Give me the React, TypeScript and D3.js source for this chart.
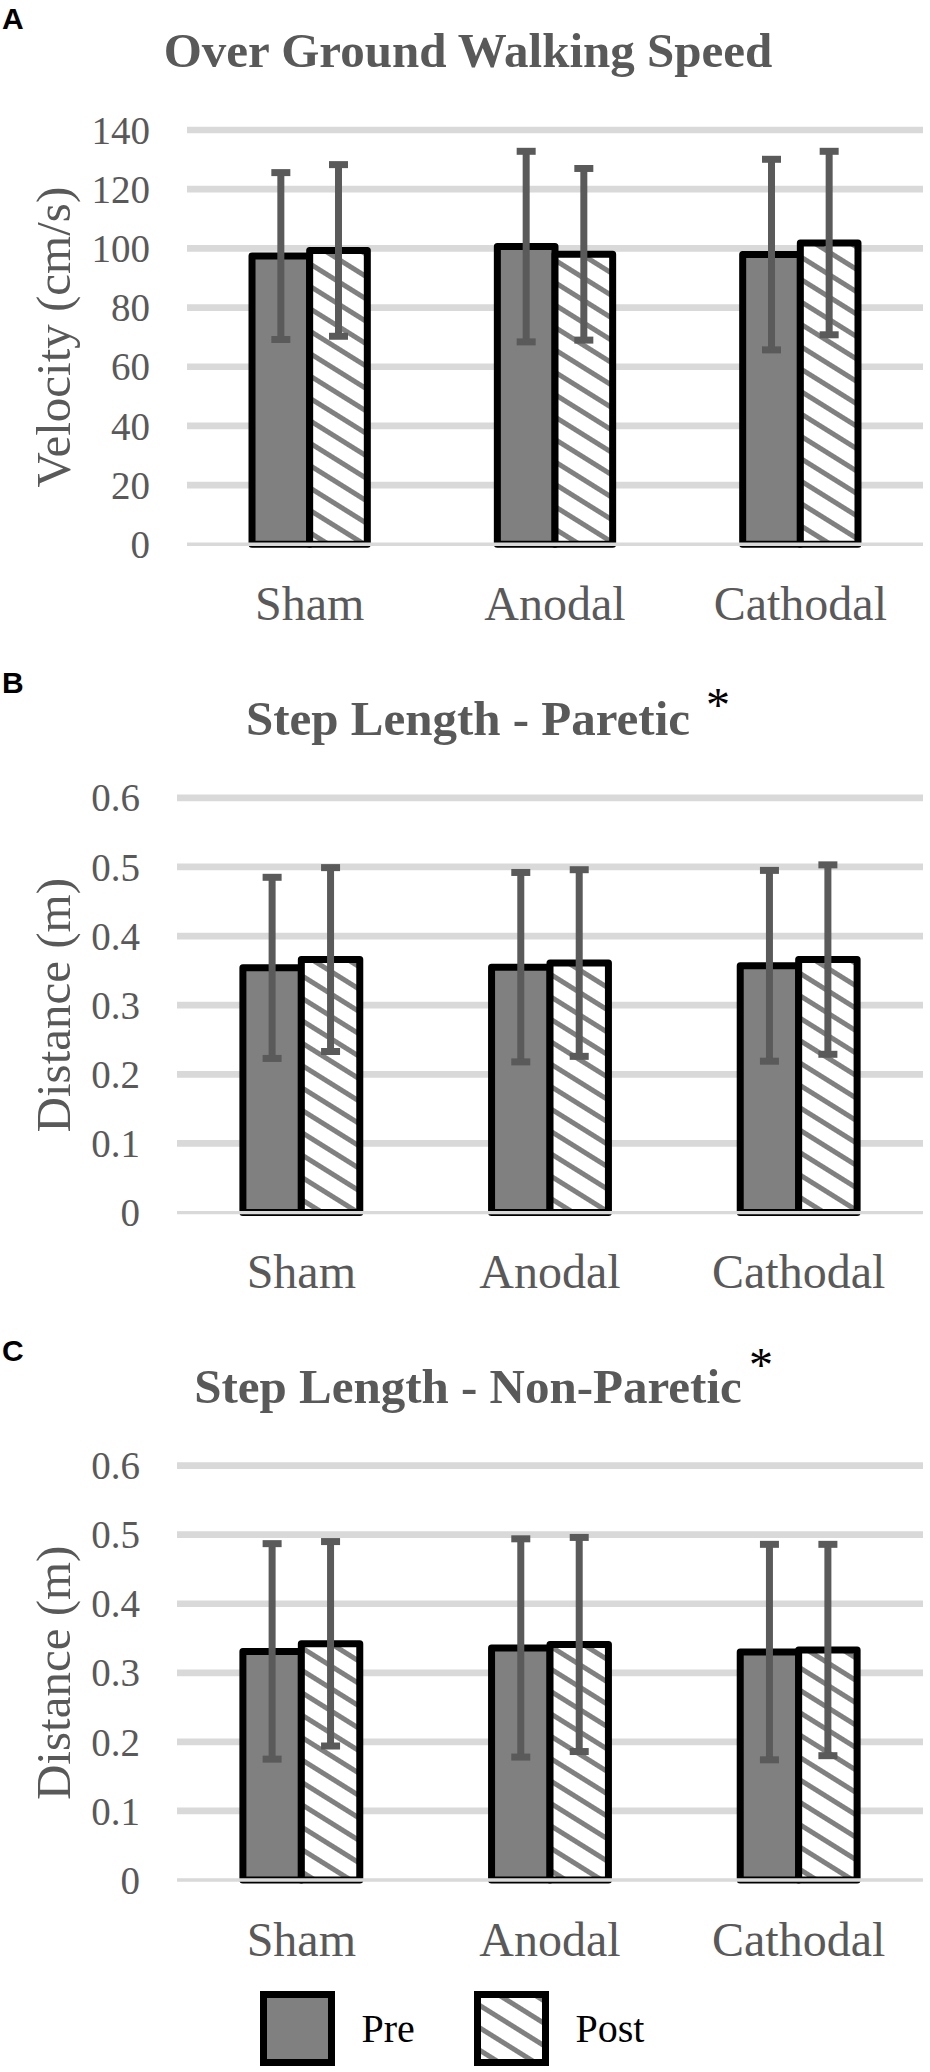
import React from 'react';
import * as d3 from 'd3';

// categories and series
const categories = ['Sham', 'Anodal', 'Cathodal'];
const series = ['Pre', 'Post'];

// A: over ground walking speed (cm/s)
const speedPre = [97.4, 100.6, 97.9];
const speedPost = [99.3, 98.0, 101.8];
const speedPreSd = [28.2, 32.2, 32.2];
const speedPostSd = [29.0, 29.0, 31.0];
const speedTicks = [0, 20, 40, 60, 80, 100, 120, 140];

// B: step length paretic (m)
const pareticPre = [0.354, 0.355, 0.357];
const pareticPost = [0.366, 0.361, 0.366];
const pareticPreSd = [0.131, 0.137, 0.138];
const pareticPostSd = [0.133, 0.135, 0.137];

// C: step length non-paretic (m)
const nonPareticPre = [0.331, 0.336, 0.330];
const nonPareticPost = [0.342, 0.341, 0.333];
const nonPareticPreSd = [0.156, 0.158, 0.156];
const nonPareticPostSd = [0.148, 0.155, 0.153];

const distanceTicks = [0, 0.1, 0.2, 0.3, 0.4, 0.5, 0.6];
const distanceTickLabels = ['0', '0.1', '0.2', '0.3', '0.4', '0.5', '0.6'];

const WIDTH = 930;
const HEIGHT = 2072;
const RIGHT = 923;
const SERIF = '"Liberation Serif", "Times New Roman", serif';
const SANS = '"Liberation Sans", Arial, sans-serif';
const TEXT = '#595959';
const GRID = '#d9d9d9';
const BAR = '#808080';

const panels = [
  {
    letter: 'A', letterY: 29, title: 'Over Ground Walking Speed', star: null,
    yLabel: 'Velocity (cm/s)', max: 140, ticks: speedTicks, tickLabels: speedTicks.map(String),
    pre: speedPre, post: speedPost, preSd: speedPreSd, postSd: speedPostSd,
    left: 187, yTop: 130, y0: 544.3,
  },
  {
    letter: 'B', letterY: 693, title: 'Step Length - Paretic', star: { x: 718, y: 721 },
    yLabel: 'Distance (m)', max: 0.6, ticks: distanceTicks, tickLabels: distanceTickLabels,
    pre: pareticPre, post: pareticPost, preSd: pareticPreSd, postSd: pareticPostSd,
    left: 177, yTop: 797.8, y0: 1212.6,
  },
  {
    letter: 'C', letterY: 1361, title: 'Step Length - Non-Paretic', star: { x: 761, y: 1381 },
    yLabel: 'Distance (m)', max: 0.6, ticks: distanceTicks, tickLabels: distanceTickLabels,
    pre: nonPareticPre, post: nonPareticPost, preSd: nonPareticPreSd, postSd: nonPareticPostSd,
    left: 177, yTop: 1465.6, y0: 1880,
  },
];

function Panel({ p }: { p: any }) {
  const y = d3.scaleLinear().domain([0, p.max]).range([p.y0, p.yTop]);
  const x0 = d3.scaleBand().domain(categories).range([p.left, RIGHT]).paddingInner(0.53).paddingOuter(0.265);
  const x1 = d3.scaleBand().domain(series).range([0, x0.bandwidth()]);

  const bars = categories.flatMap((c, i) => [
    { c, s: 'Pre', v: p.pre[i], sd: p.preSd[i] },
    { c, s: 'Post', v: p.post[i], sd: p.postSd[i] },
  ]);

  return (
    <g>
      <text x={2} y={p.letterY} fontFamily={SANS} fontWeight="bold" fontSize={30} fill="#000">
        {p.letter}
      </text>
      <text x={468} y={p.yTop - 63} textAnchor="middle" fontFamily={SERIF} fontWeight="bold" fontSize={49} fill={TEXT}>
        {p.title}
      </text>
      {p.star && (
        <text x={p.star.x} y={p.star.y} textAnchor="middle" fontFamily={SERIF} fontSize={48} fill="#000">
          *
        </text>
      )}

      {/* gridlines */}
      {p.ticks.filter((t: number) => t > 0).map((t: number) => (
        <line key={t} x1={p.left} x2={RIGHT} y1={y(t)} y2={y(t)} stroke={GRID} strokeWidth={6.7} />
      ))}
      {p.ticks.map((t: number, i: number) => (
        <text key={t} x={p.left - 37} y={y(t)} dy="0.35em" textAnchor="end" fontFamily={SERIF} fontSize={39} fill={TEXT}>
          {p.tickLabels[i]}
        </text>
      ))}
      <text
        transform={`translate(53,${(p.yTop + p.y0) / 2}) rotate(-90)`}
        textAnchor="middle"
        dy="0.35em"
        fontFamily={SERIF}
        fontSize={49}
        fill={TEXT}
      >
        {p.yLabel}
      </text>

      {/* bars */}
      {bars.map((b) => (
        <rect
          key={b.c + b.s}
          x={(x0(b.c) || 0) + (x1(b.s) || 0)}
          y={y(b.v)}
          width={x1.bandwidth()}
          height={p.y0 - y(b.v)}
          fill={b.s === 'Pre' ? BAR : 'url(#hatch)'}
          stroke="#000"
          strokeWidth={7}
          strokeLinejoin="round"
        />
      ))}
      <line x1={p.left} x2={RIGHT} y1={p.y0} y2={p.y0} stroke={GRID} strokeWidth={3.4} />

      {/* error bars */}
      {bars.map((b) => {
        const cx = (x0(b.c) || 0) + (x1(b.s) || 0) + x1.bandwidth() / 2;
        const hi = y(b.v + b.sd);
        const lo = y(b.v - b.sd);
        return (
          <g key={'e' + b.c + b.s} stroke="#5a5a5a" strokeWidth={7}>
            <line x1={cx} x2={cx} y1={hi} y2={lo} />
            <line x1={cx - 9.5} x2={cx + 9.5} y1={hi} y2={hi} />
            <line x1={cx - 9.5} x2={cx + 9.5} y1={lo} y2={lo} />
          </g>
        );
      })}

      {categories.map((c) => (
        <text
          key={c}
          x={(x0(c) || 0) + x0.bandwidth() / 2}
          y={p.y0 + 75.5}
          textAnchor="middle"
          fontFamily={SERIF}
          fontSize={48}
          fill={TEXT}
        >
          {c}
        </text>
      ))}
    </g>
  );
}

export default function App() {
  const legendX = [263.5, 477.5];
  return (
    <svg
      width={WIDTH}
      height={HEIGHT}
      viewBox={`0 0 ${WIDTH} ${HEIGHT}`}
      style={{ position: 'absolute', left: 0, top: 0, background: '#fff' }}
    >
      <defs>
        <pattern id="hatch" patternUnits="userSpaceOnUse" width={19} height={19} patternTransform="rotate(32)">
          <rect width={19} height={19} fill="#fff" />
          <rect width={19} height={5} fill={BAR} />
        </pattern>
      </defs>
      <rect width={WIDTH} height={HEIGHT} fill="#fff" />
      {panels.map((p) => (
        <Panel key={p.letter} p={p} />
      ))}

      {/* legend */}
      {series.map((s, i) => (
        <g key={s}>
          <rect
            x={legendX[i]}
            y={1994.5}
            width={68}
            height={68}
            fill={s === 'Pre' ? BAR : 'url(#hatch)'}
            stroke="#000"
            strokeWidth={7}
          />
          <text x={legendX[i] + 98} y={2042} fontFamily={SERIF} fontSize={40} fill="#000">
            {s}
          </text>
        </g>
      ))}
    </svg>
  );
}
